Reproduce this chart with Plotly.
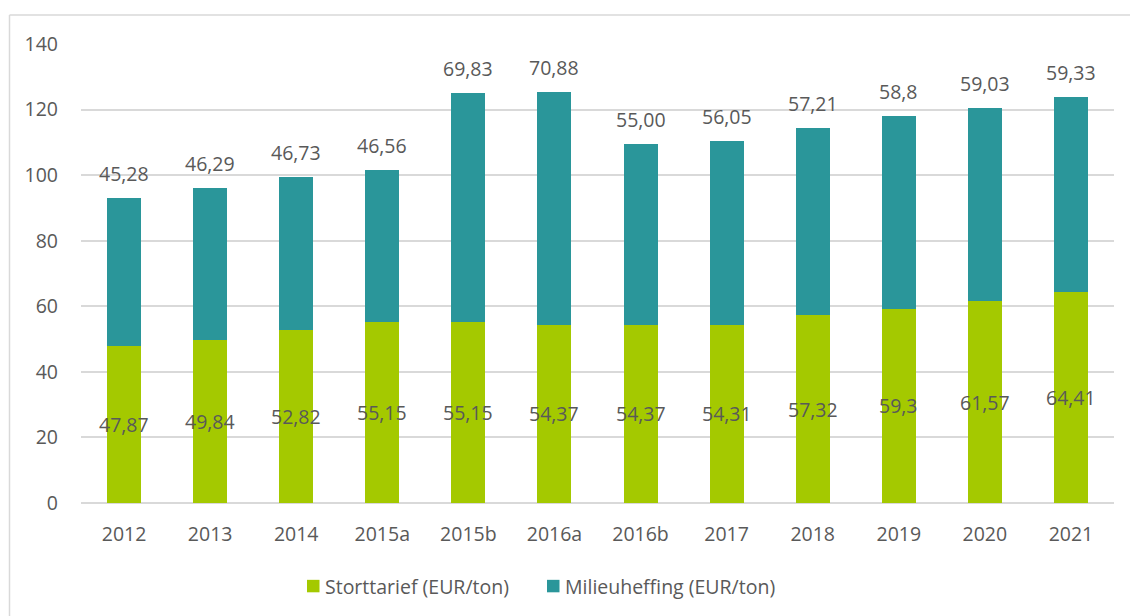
import plotly.graph_objects as go

categories = ["2012", "2013", "2014", "2015a", "2015b", "2016a", "2016b", "2017", "2018", "2019", "2020", "2021"]
storttarief = [47.87, 49.84, 52.82, 55.15, 55.15, 54.37, 54.37, 54.31, 57.32, 59.3, 61.57, 64.41]
milieuheffing = [45.28, 46.29, 46.73, 46.56, 69.83, 70.88, 55.00, 56.05, 57.21, 58.8, 59.03, 59.33]
storttarief_labels = ["47,87", "49,84", "52,82", "55,15", "55,15", "54,37", "54,37", "54,31", "57,32", "59,3", "61,57", "64,41"]
milieuheffing_labels = ["45,28", "46,29", "46,73", "46,56", "69,83", "70,88", "55,00", "56,05", "57,21", "58,8", "59,03", "59,33"]
series_names = ["Storttarief (EUR/ton)", "Milieuheffing (EUR/ton)"]
y_ticks = [0, 20, 40, 60, 80, 100, 120, 140]

GREEN = "#A4C900"
TEAL = "#2A969A"
TEXT = "#595959"
GRID = "#D9D9D9"
FONT = "Open Sans, Noto Sans, sans-serif"
FS = 19.5

W, H = 1130, 616
ML, MR, MT, MB = 81, 16, 43.5, 112.5
pw = W - ML - MR
ph = H - MT - MB

def px_x(p):
    return (p - ML) / pw

def px_y(p):
    return (H - MB - p) / ph

fig = go.Figure()
fig.add_trace(go.Bar(x=categories, y=storttarief, name=series_names[0], showlegend=False,
                     marker=dict(color=GREEN, line=dict(width=0))))
fig.add_trace(go.Bar(x=categories, y=milieuheffing, name=series_names[1], showlegend=False,
                     marker=dict(color=TEAL, line=dict(width=0))))

annotations = []
for i, (s, m, sl, ml) in enumerate(zip(storttarief, milieuheffing, storttarief_labels, milieuheffing_labels)):
    annotations.append(dict(x=i, y=s / 2, text=sl, showarrow=False, yanchor="middle",
                            font=dict(size=FS, color=TEXT, family=FONT)))
    annotations.append(dict(x=i, y=s + m, text=ml, showarrow=False, yanchor="bottom", yshift=9,
                            font=dict(size=FS, color=TEXT, family=FONT)))

shapes = [
    dict(type="line", xref="paper", yref="paper", x0=px_x(9.5), x1=px_x(9.5), y0=px_y(14.5), y1=px_y(640),
         line=dict(color="#D9D9D9", width=1.5), layer="below"),
    dict(type="line", xref="paper", yref="paper", x0=px_x(9.5), x1=px_x(1140), y0=px_y(14.5), y1=px_y(14.5),
         line=dict(color="#D9D9D9", width=1.5), layer="below"),
]

# legend drawn manually (marker square + text)
legend_marker_px = [307, 547]
for name, color, mx in zip(series_names, [GREEN, TEAL], legend_marker_px):
    shapes.append(dict(type="rect", xref="paper", yref="paper",
                       x0=px_x(mx), x1=px_x(mx + 12.5), y0=px_y(580.5), y1=px_y(593),
                       fillcolor=color, line=dict(width=0)))
    annotations.append(dict(xref="paper", yref="paper", x=px_x(mx + 15.5), y=px_y(587),
                            xanchor="left", yanchor="middle", text=name, showarrow=False,
                            font=dict(size=FS, color=TEXT, family=FONT)))

fig.update_layout(
    width=W, height=H,
    margin=dict(l=ML, r=MR, t=MT, b=MB, autoexpand=False),
    barmode="stack",
    bargap=0.605,
    plot_bgcolor="white",
    paper_bgcolor="white",
    font=dict(family=FONT, size=FS, color=TEXT),
    annotations=annotations,
    shapes=shapes,
    showlegend=False,
    xaxis=dict(type="category", range=[-0.5, len(categories) - 0.5], showgrid=False, showline=False,
               ticks="", ticklabelstandoff=17, tickfont=dict(size=FS, color=TEXT, family=FONT)),
    yaxis=dict(range=[0, 140], tickvals=y_ticks, showgrid=True, gridcolor=GRID, gridwidth=1.5,
               zeroline=True, zerolinecolor=GRID, zerolinewidth=1.5, showline=False, ticks="",
               ticklabelstandoff=22, tickfont=dict(size=FS, color=TEXT, family=FONT)),
)

fig.write_html("out.html", config={"displayModeBar": False},
               post_script="document.body.style.margin='0px';document.body.style.overflow='hidden';")
